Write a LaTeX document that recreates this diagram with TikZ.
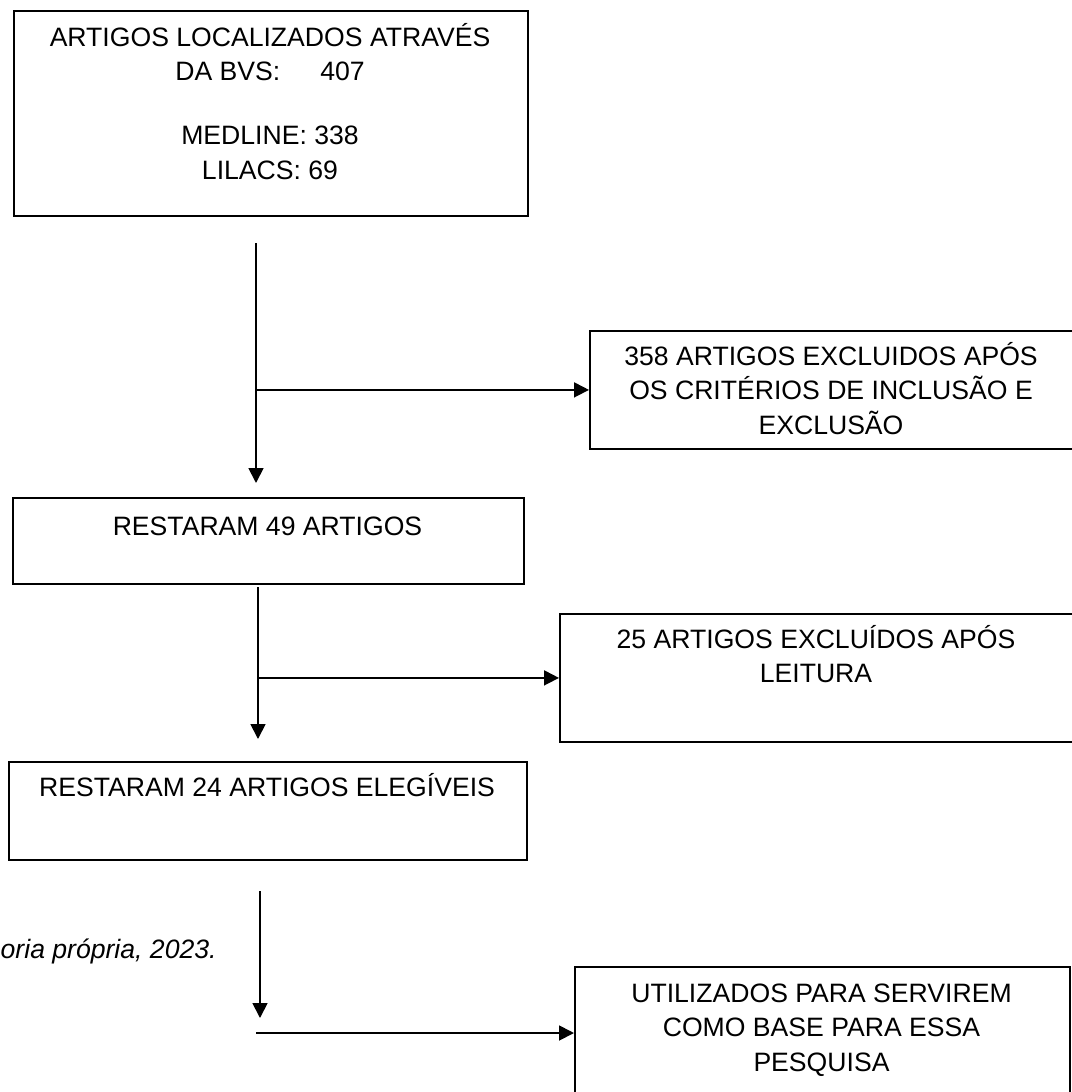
\documentclass[tikz,border=0pt]{standalone}
\usepackage{fontspec}
\setmainfont{Liberation Sans}
\usetikzlibrary{arrows.meta}
\begin{document}
\begin{tikzpicture}[x=1bp,y=-1bp,
  box/.style={draw, line width=1.8bp, inner sep=0pt, anchor=north west},
  lbl/.style={anchor=base, inner sep=0pt, font=\fontsize{26.6bp}{34.5bp}\selectfont},
  conn/.style={line width=1.8bp},
  arr/.style={conn, -{Triangle[length=15bp,width=15bp]}}
]
\useasboundingbox (0,0) rectangle (1072,1092);
\clip (0,0) rectangle (1072,1092);

% boxes
\node[box, minimum width=514bp, minimum height=205bp] (b1) at (13,10) {};
\node[box, minimum width=511bp, minimum height=86bp] (b2) at (12,497) {};
\node[box, minimum width=490bp, minimum height=118bp] (b3) at (589,330) {};
\node[box, minimum width=520bp, minimum height=128bp] (b4) at (559,613) {};
\node[box, minimum width=518bp, minimum height=98bp] (b5) at (8,761) {};
\node[box, minimum width=495bp, minimum height=160bp] (b6) at (574,966) {};

% texts
\node[lbl] (t1) at (270,46) {\parbox[t]{510bp}{\centering ARTIGOS LOCALIZADOS ATRAVÉS\\DA BVS:\hspace{40bp}407\\[29.5bp]MEDLINE: 338\\LILACS: 69}};
\node[lbl] (t2) at (267.5,535) {RESTARAM 49 ARTIGOS};
\node[lbl] (t3) at (831,365) {\parbox[t]{480bp}{\centering 358 ARTIGOS EXCLUIDOS APÓS\\OS CRITÉRIOS DE INCLUSÃO E\\EXCLUSÃO}};
\node[lbl] (t4) at (816,648) {\parbox[t]{500bp}{\centering 25 ARTIGOS EXCLUÍDOS APÓS\\LEITURA}};
\node[lbl] (t5) at (267,796) {RESTARAM 24 ARTIGOS ELEGÍVEIS};
\node[lbl] (t6) at (821.5,1002) {\parbox[t]{480bp}{\centering UTILIZADOS PARA SERVIREM\\COMO BASE PARA ESSA\\PESQUISA}};

% caption
\node[anchor=base west, inner sep=0pt, font=\fontsize{26.6bp}{34.5bp}\selectfont\itshape] (cap) at (0.5,958) {oria própria, 2023.};

% connectors
\coordinate (v1s) at (256,243);
\coordinate (v1e) at (256,483);
\draw[arr] (v1s) -- (v1e);
\draw[arr] (v1s |- b3.west) -- (b3.west);

\coordinate (v2s) at (258,587);
\coordinate (v2e) at (258,739);
\draw[arr] (v2s) -- (v2e);
\draw[arr] (v2s |- b4.west) -- (b4.west);

\coordinate (v3s) at (260,891);
\coordinate (v3e) at (260,1018);
\draw[arr] (v3s) -- (v3e);

\coordinate (h3s) at (256,1033);
\draw[arr] (h3s) -- (h3s -| b6.west);
\end{tikzpicture}
\end{document}
